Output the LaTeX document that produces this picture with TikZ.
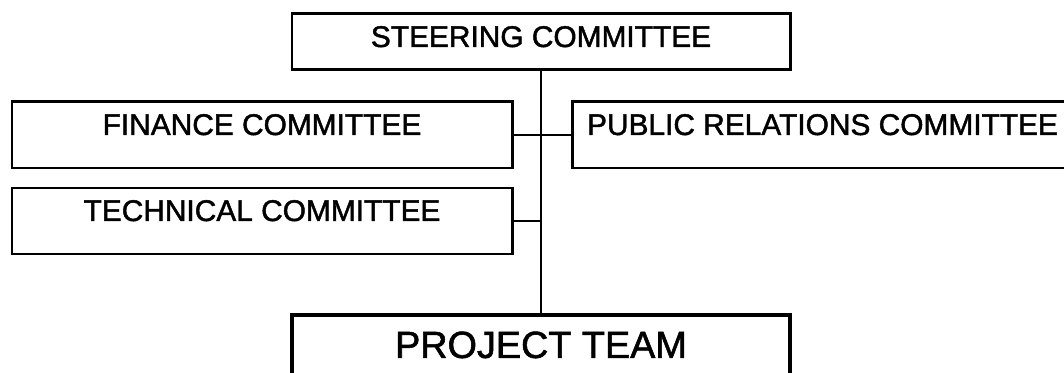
\documentclass[tikz,border=0pt]{standalone}
\usepackage{fontspec}
\setmainfont[FakeBold=1.5]{Liberation Sans}
\usetikzlibrary{positioning}
\tikzset{
  committee/.style={draw=black,line width=1.7pt,inner sep=0pt,
    minimum width=10cm,text height=0.66cm,text depth=0.66cm,
    font=\fontsize{17}{19}\selectfont},
  topbox/.style={committee,text depth=0.46cm,minimum width=9.96cm},
  teambox/.style={draw=black,line width=2.2pt,inner sep=0pt,
    text height=0.86cm,text depth=1.2cm,
    font=\fontsize{21.5}{24}\selectfont},
  link/.style={draw=black,line width=1pt},
}

\begin{document}
\begin{tikzpicture}
  \useasboundingbox (0,0) rectangle (21.28,-7.46);
  \clip (0,0) rectangle (21.28,-7.46);

  \node[topbox] (steer) at (10.82,-0.84) {STEERING COMMITTEE};
  \node[committee] (fin) at (5.24,-2.70) {FINANCE COMMITTEE};
  \node[committee] (tech) at (5.24,-4.42) {TECHNICAL COMMITTEE};
  \node[committee,anchor=west] (pr) at (11.42,-2.70) {PUBLIC RELATIONS COMMITTEE};
  \node[teambox,minimum width=9.96cm,anchor=north] (team) at (10.82,-6.26) {PROJECT TEAM};

  % spine and side branches
  \draw[link] (steer.south) -- (team.north);
  \draw[link] (fin.east) -- (pr.west);
  \draw[link] (tech.east) -- (tech.east -| steer.south);
\end{tikzpicture}
\end{document}
